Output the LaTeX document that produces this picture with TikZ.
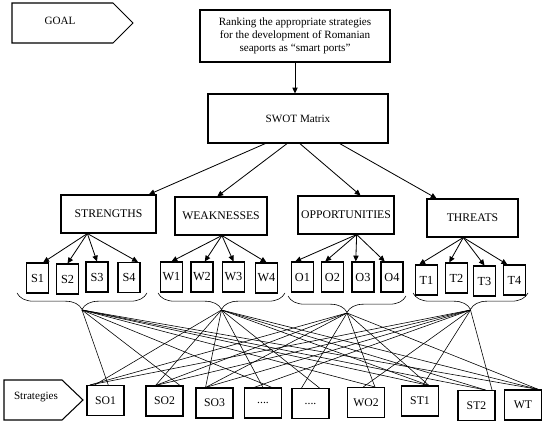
\documentclass[tikz,border=0pt]{standalone}
\usepackage{fontspec}
\setmainfont{Liberation Serif}
\usetikzlibrary{arrows.meta, calc, decorations.pathreplacing}

\tikzset{
  box/.style={draw, line width=0.9pt, rectangle, inner sep=1pt,
    font=\fontsize{9.5}{11}\selectfont},
  catbox/.style={box, minimum height=1.14cm, font=\fontsize{10}{12}\selectfont},
  itembox/.style={box, minimum width=0.66cm, minimum height=0.9cm,
    font=\fontsize{10.5}{12}\selectfont},
  stratbox/.style={box, minimum width=1.11cm, minimum height=0.9cm,
    font=\fontsize{10}{12}\selectfont},
  tag/.style={inner sep=1pt, font=\fontsize{9.5}{11}\selectfont},
  tagline/.style={line width=0.9pt, line join=miter},
  link/.style={-{Triangle[length=5pt,width=4.5pt]}, line width=0.7pt},
  web/.style={line width=0.5pt},
  brace/.style={decorate, decoration={brace, mirror, amplitude=14pt}, line width=0.5pt}
}

\begin{document}
\begin{tikzpicture}[x=0.03cm, y=-0.03cm]
  \useasboundingbox (0,0) rectangle (550,425);
  % goal and SWOT matrix
  \draw[tagline] (12,3) -- (113,3) -- (133,23) -- (113,43) -- (12,43) -- cycle;
  \node[tag] (goal) at (60,21) {GOAL};
  \node[box, minimum width=5.7cm, minimum height=1.56cm, align=center] (rank) at (295,36)
    {Ranking the appropriate strategies\\for the development of Romanian\\seaports as ``smart ports''};
  \node[box, minimum width=5.4cm, minimum height=1.47cm] (swot) at (298,118.5) {SWOT Matrix};
  \draw[link] (rank.south) -- (rank.south |- swot.north);

  % the four categories
  \node[catbox, minimum width=2.85cm] (str) at (108.5,214) {STRENGTHS};
  \node[catbox, minimum width=2.76cm] (wea) at (221,216) {WEAKNESSES};
  \node[catbox, minimum width=2.88cm] (opp) at (346,215) {OPPORTUNITIES};
  \node[catbox, minimum width=2.73cm] (thr) at (472.5,218) {THREATS};
  \draw[link] ($(swot.south west)!0.32!(swot.south east)$) -- ($(str.north west)!0.92!(str.north east)$);
  \draw[link] ($(swot.south west)!0.44!(swot.south east)$) -- ($(wea.north west)!0.46!(wea.north east)$);
  \draw[link] ($(swot.south west)!0.51!(swot.south east)$) -- ($(opp.north west)!0.65!(opp.north east)$);
  \draw[link] ($(swot.south west)!0.73!(swot.south east)$) -- ($(thr.north west)!0.11!(thr.north east)$);

  % factors of each category
  \foreach \n/\x/\y in {s1/37.5/278, s2/67.5/279, s3/97/277, s4/129/277.5,
      w1/171.5/277, w2/202/277, w3/233.5/277, w4/266.5/278,
      o1/302.5/277, o2/332.5/277, o3/363/277, o4/392/277,
      t1/426.5/280, t2/456.5/278, t3/484.5/281, t4/514.5/280}
    \node[itembox] (\n) at (\x,\y) {\MakeUppercase{\n}};
  \coordinate (fromS) at ($(str.south west)!0.28!(str.south east)$);
  \coordinate (fromW) at ($(wea.south west)!0.51!(wea.south east)$);
  \coordinate (fromO) at ($(opp.south west)!0.61!(opp.south east)$);
  \coordinate (fromT) at ($(thr.south west)!0.40!(thr.south east)$);
  \foreach \c/\n/\a in {fromS/s1/70, fromS/s2/90, fromS/s3/90, fromS/s4/60,
      fromW/w1/90, fromW/w2/80, fromW/w3/90, fromW/w4/90,
      fromO/o1/115, fromO/o2/115, fromO/o3/115, fromO/o4/115,
      fromT/t1/115, fromT/t2/115, fromT/t3/90, fromT/t4/115}
    \draw[link] (\c) -- (\n.\a);

  % braces under each group
  \draw[brace] (17,293) -- (147,293);
  \draw[brace] (158,293) -- (285,293);
  \draw[brace] (288,296) -- (406,296);
  \draw[brace] (413,293) -- (528,293);
  \coordinate (hubS) at (82,310);
  \coordinate (hubW) at (221.5,310);
  \coordinate (hubO) at (347,313);
  \coordinate (hubT) at (470.5,310);

  % strategies
  \draw[tagline] (4,380) -- (62,380) -- (83,400) -- (62,420) -- (4,420) -- cycle;
  \node[tag] (strat) at (36,397) {Strategies};
  \node[stratbox] (so1) at (105.5,400.5) {SO1};
  \node[stratbox] (so2) at (164.5,401) {SO2};
  \node[stratbox] (so3) at (214.5,403) {SO3};
  \node[stratbox] (dA) at (263,403) {....};
  \node[stratbox] (dB) at (310.5,403.5) {....};
  \node[stratbox] (wo2) at (366,402.5) {WO2};
  \node[stratbox] (st1) at (420,401) {ST1};
  \node[stratbox] (st2) at (476.5,405.5) {ST2};
  \node[stratbox] (wt) at (523,405) {WT};

  % links between factor groups and strategies
  \foreach \h/\s/\a in {hubS/so1/80, hubS/so2/45, hubS/dA/60, hubS/wo2/60,
      hubS/st1/60, hubS/st2/60, hubS/wt/45,
      hubW/so1/125, hubW/so2/120, hubW/so3/120, hubW/dA/90, hubW/dB/60,
      hubW/st1/60, hubW/st2/60, hubW/wt/45,
      hubO/so1/135, hubO/so2/120, hubO/so3/120, hubO/dB/120, hubO/wo2/60,
      hubO/st1/60, hubO/wt/45,
      hubT/so1/135, hubT/so2/120, hubT/so3/120, hubT/dA/120, hubT/wo2/100,
      hubT/st1/80, hubT/st2/45}
    \draw[web] (\h) -- (\s.\a);
\end{tikzpicture}
\end{document}
